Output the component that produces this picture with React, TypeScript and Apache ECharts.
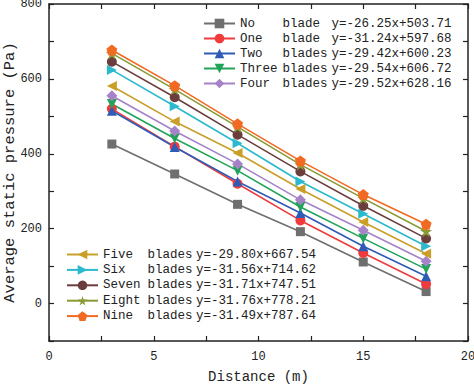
import React, { useEffect, useRef } from "react";
import * as echarts from "echarts";

const distances = [3, 6, 9, 12, 15, 18];

const seriesNames = [
  "No blade", "One blade", "Two blades", "Three blades", "Four blades",
  "Five blades", "Six blades", "Seven blades", "Eight blades", "Nine blades",
];
const nameParts = [
  ["No", "blade"], ["One", "blade"], ["Two", "blades"], ["Three", "blades"], ["Four", "blades"],
  ["Five", "blades"], ["Six", "blades"], ["Seven", "blades"], ["Eight", "blades"], ["Nine", "blades"],
];
const fitEquations = [
  "y=-26.25x+503.71", "y=-31.24x+597.68", "y=-29.42x+600.23", "y=-29.54x+606.72", "y=-29.52x+628.16",
  "y=-29.80x+667.54", "y=-31.56x+714.62", "y=-31.71x+747.51", "y=-31.76x+778.21", "y=-31.49x+787.64",
];

const noBlade = [426, 346, 265, 192, 111, 32];
const oneBlade = [520, 419, 320, 222, 135, 52];
const twoBlades = [515, 418, 326, 242, 153, 73];
const threeBlades = [533, 441, 355, 258, 174, 92];
const fourBlades = [555, 461, 373, 277, 196, 113];
const fiveBlades = [581, 486, 402, 306, 218, 133];
const sixBlades = [624, 527, 428, 326, 240, 153];
const sevenBlades = [646, 551, 451, 353, 261, 174];
const eightBlades = [668, 572, 472, 371, 281, 193];
const nineBlades = [677, 582, 480, 381, 291, 212];

const allValues = [
  noBlade, oneBlade, twoBlades, threeBlades, fourBlades,
  fiveBlades, sixBlades, sevenBlades, eightBlades, nineBlades,
];

const colors = [
  "#6f6f6f", "#ef3b3b", "#2f5bb5", "#22a35a", "#a682c9",
  "#c99f28", "#2bbacd", "#6b3d3d", "#8a9a34", "#f26a22",
];

const STAR = "path://M50,0 L61,35 L98,35 L68,57 L79,91 L50,70 L21,91 L32,57 L2,35 L39,35 Z";
const PENTAGON = "path://M50,0 L97.6,34.5 L79.4,90.5 L20.6,90.5 L2.4,34.5 Z";

const symbols = ["rect", "circle", "triangle", "triangle", "diamond", "triangle", "triangle", "circle", STAR, PENTAGON];
const symbolRotates = [0, 0, 0, 180, 0, 90, -90, 0, 0, 0];
const symbolSizes = [9, 10, 10, 10, 11, 10, 10, 10, 12, 11];

const FONT = "'Liberation Mono', 'Courier New', monospace";

export default function App() {
  const ref = useRef<HTMLDivElement>(null);
  useEffect(() => {
    if (!ref.current) return;
    const chart = echarts.init(ref.current, undefined, { renderer: "svg" });

    const legendFormatter = (name: string) => {
      const i = seriesNames.indexOf(name);
      return `{a|${nameParts[i][0]}}{b|${nameParts[i][1]}}{c|${fitEquations[i]}}`;
    };
    const makeRich = (wa: number, wb: number) => ({
      a: { width: wa, fontFamily: FONT, fontSize: 12.5, color: "#222" },
      b: { width: wb, fontFamily: FONT, fontSize: 12.5, color: "#222" },
      c: { fontFamily: FONT, fontSize: 12.5, color: "#222" },
    });

    const axisCommon = {
      axisLine: { show: true, onZero: false, lineStyle: { color: "#222", width: 1.5 } },
      axisTick: { show: true, inside: true, length: 5, lineStyle: { color: "#222", width: 1.2 } },
      splitLine: { show: false },
    };

    chart.setOption({
      animation: false,
      backgroundColor: "#fff",
      grid: { left: 49, right: 6, top: 4, bottom: 45, containLabel: false, outerBoundsMode: "none" },
      legend: [
        {
          data: seriesNames.slice(0, 5),
          orient: "vertical",
          left: 198,
          top: 12,
          itemWidth: 31,
          itemHeight: 12,
          itemGap: 2,
          formatter: legendFormatter,
          textStyle: { rich: makeRich(42.5, 49), fontFamily: FONT, fontSize: 12.5 },
        },
        {
          data: seriesNames.slice(5),
          orient: "vertical",
          left: 61,
          top: 243,
          itemWidth: 31,
          itemHeight: 12,
          itemGap: 2.4,
          formatter: legendFormatter,
          textStyle: { rich: makeRich(44.5, 48.5), fontFamily: FONT, fontSize: 12.5 },
        },
      ],
      xAxis: [
        {
          type: "value",
          min: 0,
          max: 20,
          interval: 2.5,
          name: "Distance (m)",
          nameLocation: "middle",
          nameGap: 29,
          nameMoveOverlap: false,
          nameTextStyle: { fontFamily: FONT, fontSize: 14, color: "#222" },
          axisLabel: {
            fontFamily: FONT,
            fontSize: 12,
            color: "#222",
            margin: 10,
            formatter: (v: number) => (v % 5 === 0 ? String(v) : ""),
          },
          ...axisCommon,
        },
        {
          type: "value",
          position: "top",
          min: 0,
          max: 20,
          interval: 2.5,
          axisLabel: { show: false },
          ...axisCommon,
        },
      ],
      yAxis: [
        {
          type: "value",
          min: -100,
          max: 800,
          interval: 100,
          name: "Average static pressure (Pa)",
          nameLocation: "middle",
          nameGap: 31,
          nameMoveOverlap: false,
          nameTextStyle: { fontFamily: FONT, fontSize: 15.5, color: "#222" },
          axisLabel: {
            fontFamily: FONT,
            fontSize: 12,
            color: "#222",
            margin: 7,
            formatter: (v: number) => (v % 200 === 0 ? String(v) : ""),
          },
          ...axisCommon,
        },
        {
          type: "value",
          position: "right",
          min: -100,
          max: 800,
          interval: 100,
          axisLabel: { show: false },
          ...axisCommon,
        },
      ],
      series: seriesNames.map((name, i) => ({
        name,
        type: "line",
        data: distances.map((d, j) => [d, allValues[i][j]]),
        symbol: symbols[i],
        symbolRotate: symbolRotates[i],
        symbolSize: symbolSizes[i],
        color: colors[i],
        lineStyle: { width: 1.6, color: colors[i] },
        itemStyle: { color: colors[i] },
        z: 2,
      })),
    });
    return () => chart.dispose();
  }, []);

  return <div ref={ref} style={{ width: 474, height: 386, position: "absolute", left: 0, top: 0 }} />;
}
